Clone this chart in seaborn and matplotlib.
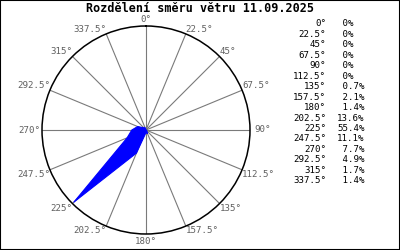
import numpy as np
import matplotlib
matplotlib.use("Agg")
import matplotlib.pyplot as plt
import seaborn as sns

title = "Rozdělení směru větru 11.09.2025"
directions = [0, 22.5, 45, 67.5, 90, 112.5, 135, 157.5, 180, 202.5, 225, 247.5, 270, 292.5, 315, 337.5]
dir_labels = ["0°", "22.5°", "45°", "67.5°", "90°", "112.5°", "135°", "157.5°",
              "180°", "202.5°", "225°", "247.5°", "270°", "292.5°", "315°", "337.5°"]
percent = [0, 0, 0, 0, 0, 0, 0.7, 2.1, 1.4, 13.6, 55.4, 11.1, 7.7, 4.9, 1.7, 1.4]

sns.set_style("white")
mono = "DejaVu Sans Mono"

fig = plt.figure(figsize=(4, 2.5), dpi=100)
fig.patch.set_facecolor("white")
W, H = 400, 250
cx, cy, R = 146, 130, 104
ax = fig.add_axes([(cx - R) / W, (H - cy - R) / H, 2 * R / W, 2 * R / H], projection="polar")
ax.set_theta_zero_location("N")
ax.set_theta_direction(-1)
rmax = 56.5
ax.set_ylim(0, rmax)
ax.set_xticks(np.deg2rad(directions))
ax.set_xticklabels([])
ax.set_yticks([])
ax.set_axisbelow(True)
ax.grid(True, axis="x", color="#7a7a7a", lw=0.8)
ax.spines["polar"].set_color("black")
ax.spines["polar"].set_linewidth(1.1)

theta = np.deg2rad(directions + [360])
r = np.array(percent + [percent[0]])
ax.fill(theta, r, color="#0000ff", lw=0, zorder=3)
sns.lineplot(x=theta, y=r, sort=False, estimator=None, ax=ax, color="#0000ff", lw=0.8, zorder=4)
ax.set_xlabel("")
ax.set_ylabel("")

for d, lbl in zip(directions, dir_labels):
    if d == 0:
        ha, va, off = "center", "bottom", (0, 1.5)
    elif d == 180:
        ha, va, off = "center", "top", (0, -2)
    elif d == 90:
        ha, va, off = "left", "center", (3, 0)
    elif d == 270:
        ha, va, off = "right", "center", (-1.5, 0)
    else:
        ha = "left" if d < 180 else "right"
        va = "bottom" if (d < 90 or d > 270) else "top"
        off = (0, 0)
    ax.annotate(lbl, xy=(np.deg2rad(d), rmax), xytext=off, textcoords="offset points",
                ha=ha, va=va, fontsize=6.6, color="#606060", family=mono, annotation_clip=False)

fig.text(0.5, 1 - 8.5 / H, title, ha="center", va="center", family=mono,
         fontweight="bold", fontsize=8.5, color="black")

for i, (lbl, v) in enumerate(zip(dir_labels, percent)):
    y = 1 - (24 + i * 10.45) / H
    fig.text(326 / W, y, lbl, ha="right", va="center", family=mono, fontsize=6.6, color="black")
    ps = f"{v:.1f}%".rjust(5) if v > 0 else " 0%"
    fig.text(337 / W, y, ps, ha="left", va="center", family=mono, fontsize=6.6, color="black")

fig.add_artist(plt.Rectangle((0, 0), 1, 1, transform=fig.transFigure, fill=False,
                             edgecolor="black", lw=1.5))

fig.savefig("out.png", dpi=100, facecolor="white")
